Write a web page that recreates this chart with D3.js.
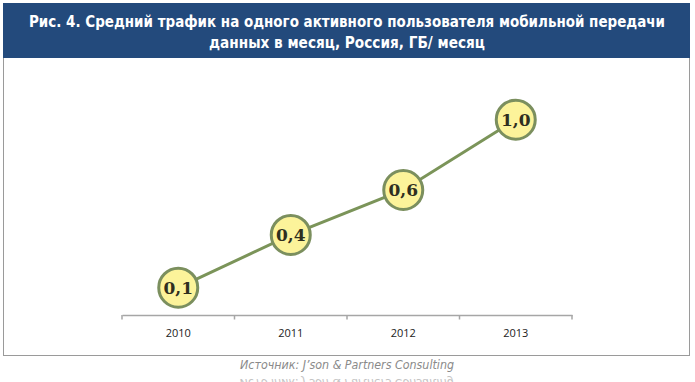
<!DOCTYPE html>
<html><head><meta charset="utf-8">
<script src="https://cdn.jsdelivr.net/npm/d3@7/dist/d3.min.js"></script>
<style>html,body{margin:0;padding:0;background:#fff;overflow:hidden}</style>
</head><body>
<svg id="chart" width="695" height="382"></svg>
<script>
const titleLines = ["Рис. 4. Средний трафик на одного активного пользователя мобильной передачи",
                    "данных в месяц, Россия, ГБ/ месяц"];
const years = ["2010", "2011", "2012", "2013"];
const traffic = [0.14, 0.41, 0.64, 1.0];
const source = "Источник: J’son & Partners Consulting";

const svg = d3.select("#chart");
const fmt = v => d3.format(".1f")(v).replace(".", ",");

// frame
svg.append("rect").attr("x", 3.5).attr("y", 3.5).attr("width", 686).attr("height", 352)
  .attr("fill", "#fff").attr("stroke", "#9a9a9a").attr("stroke-width", 1);
svg.append("rect").attr("x", 3).attr("y", 3).attr("width", 687).attr("height", 55)
  .attr("fill", "#234a7c");

const tw = [636, 276];
titleLines.forEach((t, i) => {
  svg.append("text").attr("x", 347).attr("y", 27 + i * 21)
    .attr("text-anchor", "middle")
    .attr("font-family", "'DejaVu Sans Condensed','DejaVu Sans',sans-serif")
    .attr("font-weight", "bold").attr("font-size", 15.5).attr("fill", "#fff")
    .attr("textLength", tw[i]).attr("lengthAdjust", "spacingAndGlyphs")
    .text(t);
});

const x = d3.scaleBand().domain(years).range([122, 572]).paddingInner(0).paddingOuter(0);
const y = d3.scaleLinear().domain([0, 1.2]).range([315, 80.6]);

// axis
const axisG = svg.append("g").attr("transform", "translate(0,315)");
const axis = d3.axisBottom(x).tickSize(0).tickPadding(14).tickSizeOuter(0);
axisG.call(axis);
axisG.select(".domain").attr("stroke", "#a6a6a6").attr("stroke-width", 1.5);
axisG.selectAll(".tick text")
  .attr("font-family", "'Open Sans','DejaVu Sans',sans-serif").attr("font-size", 11)
  .attr("fill", "#222").attr("dy", "0.35em").attr("y", 18);
const bounds = years.map(d => x(d)).concat([x.range()[1]]);
axisG.selectAll(".bt").data(bounds).enter().append("line")
  .attr("x1", d => d).attr("x2", d => d).attr("y1", 0).attr("y2", 4.5)
  .attr("stroke", "#a6a6a6").attr("stroke-width", 1.5);

// line
const cx = d => x(d) + x.bandwidth() / 2;
const line = d3.line().x((d, i) => cx(years[i])).y(d => y(d));
svg.append("path").datum(traffic).attr("d", line)
  .attr("fill", "none").attr("stroke", "#7b9459").attr("stroke-width", 3);

// markers
const g = svg.selectAll(".pt").data(traffic).enter().append("g")
  .attr("transform", (d, i) => `translate(${cx(years[i])},${y(d)})`);
g.append("circle").attr("r", 19.5).attr("fill", "#fcf39a")
  .attr("stroke", "#7b8f5e").attr("stroke-width", 3);
g.append("text").attr("text-anchor", "middle").attr("dy", "0.36em")
  .attr("font-family", "'DejaVu Serif',serif").attr("font-weight", "bold")
  .attr("font-size", 17).attr("fill", "#2f2f1f").text(d => fmt(d));

// source + reflection
svg.append("text").attr("x", 347).attr("y", 369).attr("text-anchor", "middle")
  .attr("font-family", "'DejaVu Sans',sans-serif").attr("font-style", "italic")
  .attr("font-size", 11.5).attr("fill", "#8a8a8a")
  .attr("textLength", 214).attr("lengthAdjust", "spacingAndGlyphs").text(source);
svg.append("text").attr("x", 347).attr("y", 369).attr("text-anchor", "middle")
  .attr("transform", "translate(0,748) scale(1,-1)")
  .attr("font-family", "'DejaVu Sans',sans-serif").attr("font-style", "italic")
  .attr("font-size", 11.5).attr("fill", "#c4c4c4")
  .attr("textLength", 214).attr("lengthAdjust", "spacingAndGlyphs").text(source);
</script>
</body></html>
